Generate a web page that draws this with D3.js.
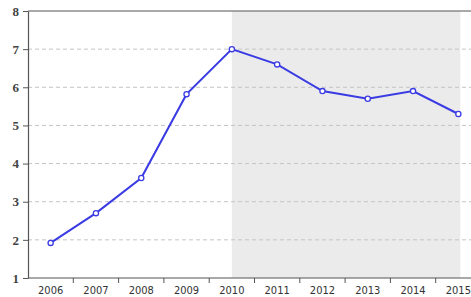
<!DOCTYPE html>
<html>
<head>
<meta charset="utf-8">
<script src="https://cdn.jsdelivr.net/npm/d3@7"></script>
<style>
  body { margin: 0; background: #fff; }
  svg { display: block; }
</style>
</head>
<body>
<div id="chart"></div>
<script>
const FRAME_WIDTH = 471;
const FRAME_HEIGHT = 297;
const MARGINS = {left: 28, top: 11, bottom: 19};
const STEP = 45.3;

// data
const YEARS = ["2006", "2007", "2008", "2009", "2010", "2011", "2012", "2013", "2014", "2015"];
const VALUES = [1.92, 2.7, 3.62, 5.82, 7.0, 6.6, 5.9, 5.7, 5.9, 5.3];
const Y_TICKS = [1, 2, 3, 4, 5, 6, 7, 8];
const SHADE = ["2010", "2015"];

const svg = d3.select("#chart")
  .append("svg")
    .attr("width", FRAME_WIDTH)
    .attr("height", FRAME_HEIGHT);

const X_SCALE = d3.scaleBand()
  .domain(YEARS)
  .range([MARGINS.left, MARGINS.left + STEP * YEARS.length]);

const Y_SCALE = d3.scaleLinear()
  .domain([1, 8])
  .range([FRAME_HEIGHT - MARGINS.bottom, MARGINS.top]);

const xc = (d) => X_SCALE(d) + X_SCALE.bandwidth() / 2;
const RIGHT = X_SCALE.range()[1];

// shaded period
svg.append("rect")
  .attr("x", xc(SHADE[0]))
  .attr("y", Y_SCALE(8))
  .attr("width", xc(SHADE[1]) - xc(SHADE[0]) + 2)
  .attr("height", Y_SCALE(1) - Y_SCALE(8))
  .attr("fill", "#ebebeb");

// dashed grid
svg.append("g")
  .selectAll("line")
  .data(Y_TICKS.filter((t) => t > 1 && t < 8))
  .enter()
  .append("line")
    .attr("x1", MARGINS.left)
    .attr("x2", RIGHT)
    .attr("y1", (d) => Y_SCALE(d))
    .attr("y2", (d) => Y_SCALE(d))
    .attr("stroke", "#c4c4c4")
    .attr("stroke-dasharray", "4,3")
    .attr("stroke-width", 1);

// top frame line
svg.append("line")
  .attr("x1", MARGINS.left).attr("x2", RIGHT)
  .attr("y1", Y_SCALE(8)).attr("y2", Y_SCALE(8))
  .attr("stroke", "#555").attr("stroke-width", 1.2);

// y axis
const yAxis = svg.append("g")
  .attr("transform", "translate(" + MARGINS.left + ",0)")
  .call(d3.axisLeft(Y_SCALE).tickValues(Y_TICKS).tickFormat(d3.format("d")).tickSize(5).tickSizeOuter(0));
yAxis.select(".domain").attr("stroke", "#555").attr("stroke-width", 1.2);
yAxis.selectAll(".tick line").attr("stroke", "#555");
yAxis.selectAll("text")
  .attr("font-family", "'Liberation Serif', serif")
  .attr("font-size", "13px")
  .attr("font-weight", "bold")
  .attr("fill", "#444")
  .attr("x", -9);

// x axis: ticks on band boundaries, labels centred
const xAxis = svg.append("g")
  .attr("transform", "translate(0," + Y_SCALE(1) + ")");
xAxis.append("line")
  .attr("x1", MARGINS.left).attr("x2", RIGHT)
  .attr("stroke", "#555").attr("stroke-width", 1.2);
xAxis.selectAll(".bt")
  .data(YEARS.slice(1))
  .enter()
  .append("line")
    .attr("class", "bt")
    .attr("x1", (d) => X_SCALE(d))
    .attr("x2", (d) => X_SCALE(d))
    .attr("y1", 0).attr("y2", 5)
    .attr("stroke", "#555");
xAxis.selectAll("text")
  .data(YEARS)
  .enter()
  .append("text")
    .attr("x", (d) => xc(d))
    .attr("y", 16)
    .attr("text-anchor", "middle")
    .attr("font-family", "'DejaVu Sans Condensed', 'DejaVu Sans', sans-serif")
    .attr("font-size", "11px")
    .attr("fill", "#333")
    .text((d) => d);

// line series
const line = d3.line()
  .x((d, i) => xc(YEARS[i]))
  .y((d) => Y_SCALE(d));

svg.append("path")
  .datum(VALUES)
  .attr("d", line)
  .attr("fill", "none")
  .attr("stroke", "#3b3be3")
  .attr("stroke-width", 2);

svg.selectAll(".pt")
  .data(VALUES)
  .enter()
  .append("circle")
    .attr("class", "pt")
    .attr("cx", (d, i) => xc(YEARS[i]))
    .attr("cy", (d) => Y_SCALE(d))
    .attr("r", 2.6)
    .attr("fill", "#fff")
    .attr("stroke", "#3b3be3")
    .attr("stroke-width", 1.3);
</script>
</body>
</html>
